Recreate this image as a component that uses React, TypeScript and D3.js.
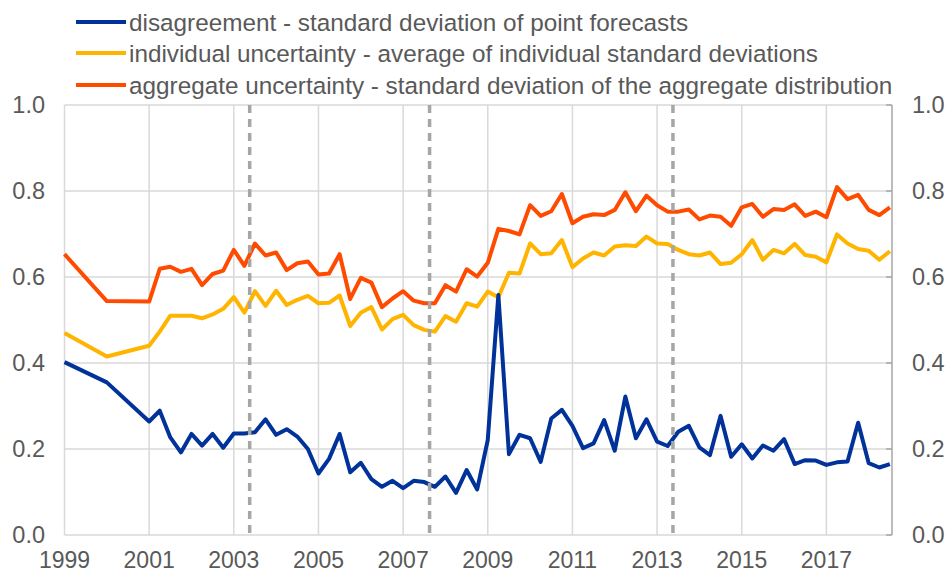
import React from 'react';
import * as d3 from 'd3';

// survey rounds: annual until 2001, quarterly afterwards
const periods = [
  '1999Q1', '2000Q1',
  '2001Q1', '2001Q2', '2001Q3', '2001Q4',
  '2002Q1', '2002Q2', '2002Q3', '2002Q4',
  '2003Q1', '2003Q2', '2003Q3', '2003Q4',
  '2004Q1', '2004Q2', '2004Q3', '2004Q4',
  '2005Q1', '2005Q2', '2005Q3', '2005Q4',
  '2006Q1', '2006Q2', '2006Q3', '2006Q4',
  '2007Q1', '2007Q2', '2007Q3', '2007Q4',
  '2008Q1', '2008Q2', '2008Q3', '2008Q4',
  '2009Q1', '2009Q2', '2009Q3', '2009Q4',
  '2010Q1', '2010Q2', '2010Q3', '2010Q4',
  '2011Q1', '2011Q2', '2011Q3', '2011Q4',
  '2012Q1', '2012Q2', '2012Q3', '2012Q4',
  '2013Q1', '2013Q2', '2013Q3', '2013Q4',
  '2014Q1', '2014Q2', '2014Q3', '2014Q4',
  '2015Q1', '2015Q2', '2015Q3', '2015Q4',
  '2016Q1', '2016Q2', '2016Q3', '2016Q4',
  '2017Q1', '2017Q2', '2017Q3', '2017Q4',
  '2018Q1', '2018Q2', '2018Q3',
];

const disagreement = [
  0.402, 0.355,
  0.264, 0.289, 0.227, 0.192,
  0.235, 0.208, 0.235, 0.203,
  0.236, 0.236, 0.239, 0.269,
  0.233, 0.246, 0.229, 0.200,
  0.143, 0.177, 0.235, 0.146,
  0.168, 0.130, 0.112, 0.126,
  0.109, 0.126, 0.123, 0.112,
  0.136, 0.098, 0.151, 0.106,
  0.221, 0.558, 0.188, 0.233,
  0.225, 0.170, 0.271, 0.291,
  0.254, 0.202, 0.213, 0.267,
  0.196, 0.322, 0.225, 0.269,
  0.217, 0.207, 0.240, 0.254,
  0.204, 0.186, 0.277, 0.182,
  0.211, 0.178, 0.208, 0.196,
  0.223, 0.165, 0.174, 0.173,
  0.163, 0.169, 0.171, 0.261,
  0.167, 0.157, 0.165,
];

const individual = [
  0.470, 0.415,
  0.440, 0.473, 0.510, 0.510,
  0.510, 0.504, 0.513, 0.526,
  0.553, 0.517, 0.567, 0.533,
  0.568, 0.535, 0.547, 0.556,
  0.539, 0.540, 0.557, 0.486,
  0.517, 0.530, 0.478, 0.502,
  0.512, 0.488, 0.477, 0.473,
  0.509, 0.496, 0.539, 0.531,
  0.566, 0.553, 0.610, 0.608,
  0.678, 0.653, 0.655, 0.686,
  0.623, 0.643, 0.657, 0.650,
  0.671, 0.674, 0.672, 0.694,
  0.678, 0.677, 0.663, 0.653,
  0.650, 0.657, 0.630, 0.633,
  0.653, 0.686, 0.640, 0.663,
  0.655, 0.677, 0.651, 0.647,
  0.634, 0.699, 0.678, 0.665,
  0.661, 0.640, 0.660,
];

const aggregate = [
  0.653, 0.544,
  0.543, 0.619, 0.624, 0.612,
  0.619, 0.581, 0.607, 0.615,
  0.663, 0.626, 0.678, 0.650,
  0.657, 0.616, 0.632, 0.636,
  0.606, 0.608, 0.653, 0.549,
  0.598, 0.587, 0.530, 0.550,
  0.567, 0.545, 0.539, 0.539,
  0.581, 0.566, 0.618, 0.601,
  0.633, 0.712, 0.707, 0.699,
  0.767, 0.742, 0.753, 0.793,
  0.725, 0.740, 0.746, 0.744,
  0.756, 0.797, 0.753, 0.789,
  0.767, 0.752, 0.752, 0.757,
  0.734, 0.743, 0.740, 0.719,
  0.762, 0.770, 0.740, 0.758,
  0.756, 0.769, 0.742, 0.752,
  0.739, 0.809, 0.781, 0.791,
  0.756, 0.744, 0.762,
];

const yearTicks = [1999, 2001, 2003, 2005, 2007, 2009, 2011, 2013, 2015, 2017];
const valueTicks = [0, 0.2, 0.4, 0.6, 0.8, 1.0];
// methodological breaks (between survey rounds)
const breaks = [2003.375, 2007.625, 2013.375];

const series = [
  { name: 'disagreement - standard deviation of point forecasts', values: disagreement, color: '#003299' },
  { name: 'individual uncertainty - average of individual standard deviations', values: individual, color: '#ffb400' },
  { name: 'aggregate uncertainty - standard deviation of the aggregate distribution', values: aggregate, color: '#ff4b00' },
];

const toYear = (p: string) => +p.slice(0, 4) + (+p.slice(5) - 1) / 4;

const W = 950;
const H = 574;
const left = 64.5;
const right = 892;
const top = 105;
const bottom = 535;

const font = '"Liberation Sans", Arial, sans-serif';
const textColor = '#595959';

export default function App() {
  const x = d3.scaleLinear().domain([1999, 2018.55]).range([left, right]);
  const y = d3.scaleLinear().domain([0, 1]).range([bottom, top]);

  const line = d3.line<number>()
    .x((_, i) => x(toYear(periods[i])))
    .y(d => y(d));

  // draw order: orange, yellow, blue on top
  const drawOrder = [2, 1, 0];

  return (
    <div style={{ position: 'absolute', left: 0, top: 0 }}>
      <svg width={W} height={H} style={{ display: 'block', background: '#fff' }}>
        {/* grid */}
        {valueTicks.map(v => (
          <line key={'h' + v} x1={left} x2={right} y1={y(v)} y2={y(v)} stroke="#d9d9d9" strokeWidth={1.5} />
        ))}
        {yearTicks.map(t => (
          <line key={'v' + t} x1={x(t)} x2={x(t)} y1={top} y2={bottom} stroke="#d9d9d9" strokeWidth={1.5} />
        ))}

        {/* right axis */}
        <line x1={right} x2={right} y1={top} y2={bottom} stroke="#a6a6a6" strokeWidth={1.5} />
        {valueTicks.map(v => (
          <line key={'rt' + v} x1={right - 6} x2={right} y1={y(v)} y2={y(v)} stroke="#a6a6a6" strokeWidth={1.5} />
        ))}

        {/* series */}
        {drawOrder.map(i => (
          <path key={series[i].name} d={line(series[i].values) || ''} fill="none"
            stroke={series[i].color} strokeWidth={4} strokeLinejoin="round" />
        ))}

        {/* breaks */}
        {breaks.map(b => (
          <line key={'b' + b} x1={x(b)} x2={x(b)} y1={top} y2={bottom} stroke="#a6a6a6"
            strokeWidth={3.5} strokeDasharray="8,6" />
        ))}

        {/* value labels */}
        {valueTicks.map(v => (
          <g key={'yl' + v} fontFamily={font} fontSize={23.5} fill={textColor}>
            <text x={45} y={y(v)} dy="0.35em" textAnchor="end">{v.toFixed(1)}</text>
            <text x={912} y={y(v)} dy="0.35em" textAnchor="start">{v.toFixed(1)}</text>
          </g>
        ))}

        {/* year labels */}
        {yearTicks.map(t => (
          <text key={'xl' + t} x={x(t)} y={568} textAnchor="middle" fontFamily={font}
            fontSize={23} fill={textColor}>{t}</text>
        ))}

        {/* legend */}
        {series.map((s, i) => {
          const ly = [22, 53, 85][i];
          return (
            <g key={'lg' + i}>
              <line x1={76} x2={126} y1={ly} y2={ly} stroke={s.color} strokeWidth={4} />
              <text x={129} y={ly} dy="0.35em" fontFamily={font} fontSize={24.3} fill={textColor}>{s.name}</text>
            </g>
          );
        })}
      </svg>
    </div>
  );
}
